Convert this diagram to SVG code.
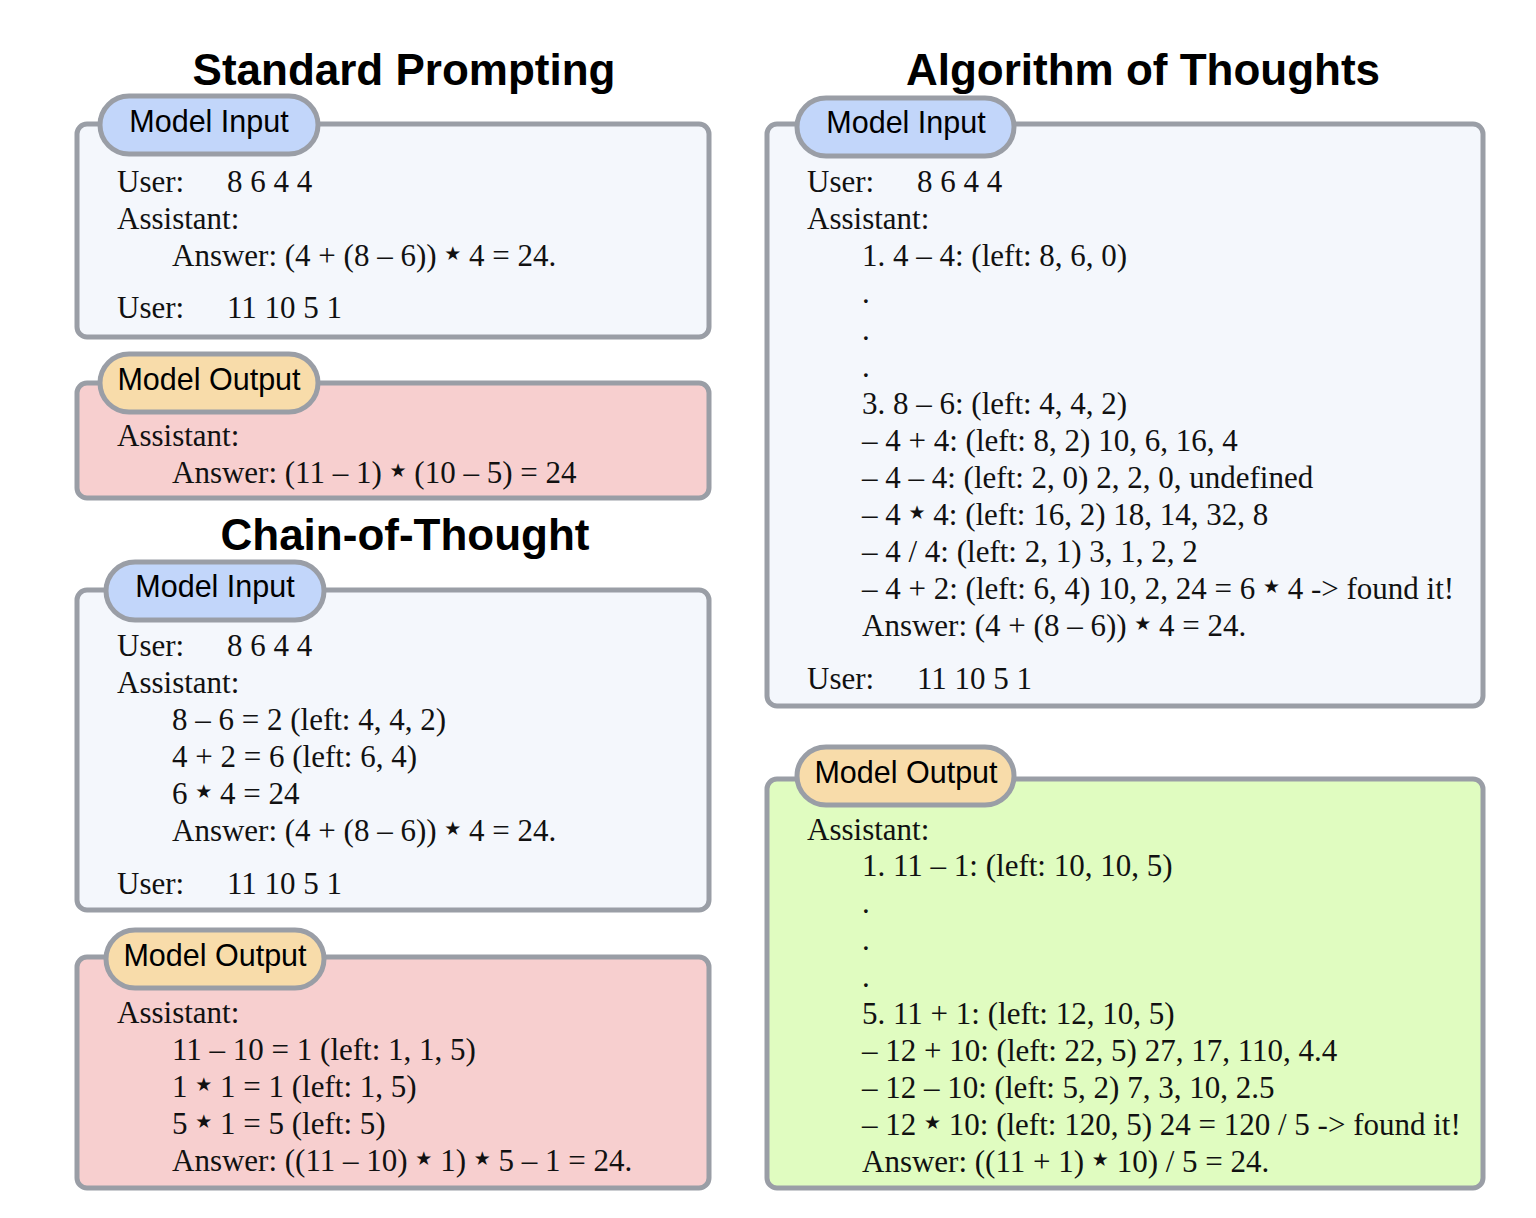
<svg xmlns="http://www.w3.org/2000/svg" width="1536" height="1218" viewBox="0 0 1536 1218">
<style>
.title{font-family:"Liberation Sans",Arial,sans-serif;font-weight:bold;font-size:44px;fill:#000;text-anchor:middle}
.box{stroke:#9a9ea6;stroke-width:5}
.in{fill:#f4f7fc}
.outr{fill:#f7cfcf}
.outg{fill:#e0fcc0}
.pin{fill:#c2d6fa;stroke:#9a9ea6;stroke-width:5}
.pout{fill:#f8dcaa;stroke:#9a9ea6;stroke-width:5}
.lab{font-family:"Liberation Sans",Arial,sans-serif;font-size:30.5px;fill:#000;text-anchor:middle}
.t{font-family:"Liberation Serif","Times New Roman",serif;font-size:31px;fill:#111}
.st{font-family:"DejaVu Sans",sans-serif;font-size:19px;baseline-shift:6px}
</style>
<rect width="1536" height="1218" fill="#ffffff"/>
<text class="title" x="404" y="85">Standard Prompting</text>
<text class="title" x="405" y="550">Chain-of-Thought</text>
<text class="title" x="1143" y="85">Algorithm of Thoughts</text>

<g id="sp-input">
<rect class="box in" x="77" y="124" width="632" height="213" rx="10"/>
<rect class="pin" x="100" y="96" width="218" height="58" rx="29"/>
<text class="lab" x="209" y="132">Model Input</text>
<text class="t" x="117" y="192">User:</text><text class="t" x="227" y="192">8 6 4 4</text>
<text class="t" x="117" y="229">Assistant:</text>
<text class="t" x="172" y="266">Answer: (4 + (8 – 6)) <tspan class="st">★</tspan> 4 = 24.</text>
<text class="t" x="117" y="318">User:</text><text class="t" x="227" y="318">11 10 5 1</text>
</g>

<g id="sp-output">
<rect class="box outr" x="77" y="383" width="632" height="115" rx="10"/>
<rect class="pout" x="100" y="354" width="218" height="58" rx="29"/>
<text class="lab" x="209" y="390">Model Output</text>
<text class="t" x="117" y="446">Assistant:</text>
<text class="t" x="172" y="483">Answer: (11 – 1) <tspan class="st">★</tspan> (10 – 5) = 24</text>
</g>

<g id="cot-input">
<rect class="box in" x="77" y="590" width="632" height="320" rx="10"/>
<rect class="pin" x="106" y="562" width="218" height="58" rx="29"/>
<text class="lab" x="215" y="597">Model Input</text>
<text class="t" x="117" y="656">User:</text><text class="t" x="227" y="656">8 6 4 4</text>
<text class="t" x="117" y="693">Assistant:</text>
<text class="t" x="172" y="730">8 – 6 = 2 (left: 4, 4, 2)</text>
<text class="t" x="172" y="767">4 + 2 = 6 (left: 6, 4)</text>
<text class="t" x="172" y="804">6 <tspan class="st">★</tspan> 4 = 24</text>
<text class="t" x="172" y="841">Answer: (4 + (8 – 6)) <tspan class="st">★</tspan> 4 = 24.</text>
<text class="t" x="117" y="894">User:</text><text class="t" x="227" y="894">11 10 5 1</text>
</g>

<g id="cot-output">
<rect class="box outr" x="77" y="957" width="632" height="231" rx="10"/>
<rect class="pout" x="106" y="930" width="218" height="58" rx="29"/>
<text class="lab" x="215" y="966">Model Output</text>
<text class="t" x="117" y="1023">Assistant:</text>
<text class="t" x="172" y="1060">11 – 10 = 1 (left: 1, 1, 5)</text>
<text class="t" x="172" y="1097">1 <tspan class="st">★</tspan> 1 = 1 (left: 1, 5)</text>
<text class="t" x="172" y="1134">5 <tspan class="st">★</tspan> 1 = 5 (left: 5)</text>
<text class="t" x="172" y="1171">Answer: ((11 – 10) <tspan class="st">★</tspan> 1) <tspan class="st">★</tspan> 5 – 1 = 24.</text>
</g>

<g id="aot-input">
<rect class="box in" x="767" y="124" width="716" height="582" rx="10"/>
<rect class="pin" x="797" y="98" width="217" height="58" rx="29"/>
<text class="lab" x="906" y="133">Model Input</text>
<text class="t" x="807" y="192">User:</text><text class="t" x="917" y="192">8 6 4 4</text>
<text class="t" x="807" y="229">Assistant:</text>
<text class="t" x="862" y="266">1. 4 – 4: (left: 8, 6, 0)</text>
<text class="t" x="862" y="303">.</text>
<text class="t" x="862" y="340">.</text>
<text class="t" x="862" y="377">.</text>
<text class="t" x="862" y="414">3. 8 – 6: (left: 4, 4, 2)</text>
<text class="t" x="862" y="451">– 4 + 4: (left: 8, 2) 10, 6, 16, 4</text>
<text class="t" x="862" y="488">– 4 – 4: (left: 2, 0) 2, 2, 0, undefined</text>
<text class="t" x="862" y="525">– 4 <tspan class="st">★</tspan> 4: (left: 16, 2) 18, 14, 32, 8</text>
<text class="t" x="862" y="562">– 4 / 4: (left: 2, 1) 3, 1, 2, 2</text>
<text class="t" x="862" y="599">– 4 + 2: (left: 6, 4) 10, 2, 24 = 6 <tspan class="st">★</tspan> 4 -&gt; found it!</text>
<text class="t" x="862" y="636">Answer: (4 + (8 – 6)) <tspan class="st">★</tspan> 4 = 24.</text>
<text class="t" x="807" y="689">User:</text><text class="t" x="917" y="689">11 10 5 1</text>
</g>

<g id="aot-output">
<rect class="box outg" x="767" y="779" width="716" height="409" rx="10"/>
<rect class="pout" x="797" y="747" width="217" height="58" rx="29"/>
<text class="lab" x="906" y="783">Model Output</text>
<text class="t" x="807" y="840">Assistant:</text>
<text class="t" x="862" y="876">1. 11 – 1: (left: 10, 10, 5)</text>
<text class="t" x="862" y="913">.</text>
<text class="t" x="862" y="950">.</text>
<text class="t" x="862" y="987">.</text>
<text class="t" x="862" y="1024">5. 11 + 1: (left: 12, 10, 5)</text>
<text class="t" x="862" y="1061">– 12 + 10: (left: 22, 5) 27, 17, 110, 4.4</text>
<text class="t" x="862" y="1098">– 12 – 10: (left: 5, 2) 7, 3, 10, 2.5</text>
<text class="t" x="862" y="1135">– 12 <tspan class="st">★</tspan> 10: (left: 120, 5) 24 = 120 / 5 -&gt; found it!</text>
<text class="t" x="862" y="1172">Answer: ((11 + 1) <tspan class="st">★</tspan> 10) / 5 = 24.</text>
</g>
<g id="connectors"/>
</svg>
